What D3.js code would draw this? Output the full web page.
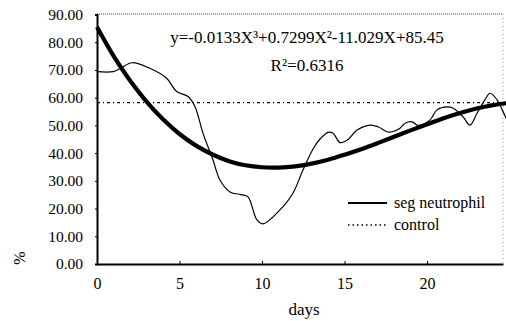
<!DOCTYPE html>
<html><head><meta charset="utf-8">
<script src="https://cdn.jsdelivr.net/npm/d3@7"></script>
<style>
body{margin:0;background:#fff;}
svg text{font-family:"Liberation Serif","Times New Roman",serif;fill:#000;}
</style></head>
<body><svg id="c" width="506" height="321"></svg>
<script>
// seg neutrophil (thin) series
const segDays = [0,0.97,1.4,2.12,3.2,4.22,4.83,5.52,5.94,6.42,7.03,7.45,8.06,8.73,9.15,9.68,10.06,11.27,11.88,12.48,13.09,13.5,14.0,14.3,14.73,15.15,15.76,16.55,17.03,17.58,17.88,18.36,18.67,19.09,19.45,20.18,20.6,21.2,21.58,22.18,22.6,23.03,23.5,23.82,24.24,24.55,24.8];
const segValues = [69.4,69.4,70.5,72.6,70.6,67,62.2,60.4,56.7,47.2,37.5,30.3,26,25,24.2,16,14.5,20.7,25.6,33.9,41.5,45,47.5,47.2,43.8,44.6,48.3,50.1,49.5,47.7,47.7,49,50.8,51.3,50,52,55.6,56.7,56.2,53.1,50.1,54.4,59.2,61.6,59.2,55.6,52.5];
// trend line (thick)
const trendDays = [0,1,2,3,4,5,6,7,8,9,10,11,12,13,14,15,16,17,18,19,20,21,22,23,24,24.8];
const trendValues = [85.5,75.1,66.2,58.6,52.2,46.9,42.7,39.5,37.1,35.6,34.9,34.8,35.2,36.2,37.6,39.4,41.4,43.6,45.9,48.2,50.4,52.6,54.5,56.1,57.3,58.0];
// control level
const controlValue = 58.2;
const yTicks = [0,10,20,30,40,50,60,70,80,90];
const xTicks = [0,5,10,15,20];
const equationText = "y=-0.0133X\u00B3+0.7299X\u00B2-11.029X+85.45";
const r2Text = "R\u00B2=0.6316";
const legendNames = ["seg neutrophil","control"];

const svg = d3.select("#c");
const L=97, R=503, T=14.5, B=264;
const x = d3.scaleLinear().domain([0,24.6]).range([L,R]);
const y = d3.scaleLinear().domain([0,90]).range([B,T]);

// top & right frame (faint dotted)
svg.append("line").attr("x1",L).attr("x2",R).attr("y1",14).attr("y2",14)
  .attr("stroke","#444").attr("stroke-width",1.2).attr("stroke-dasharray","1,1");
svg.append("line").attr("x1",R).attr("x2",R).attr("y1",14).attr("y2",B)
  .attr("stroke","#999").attr("stroke-width",1).attr("stroke-dasharray","1,3");

// axes
const yAxis = svg.append("g").attr("transform",`translate(${L},0)`)
  .call(d3.axisLeft(y).tickValues(yTicks).tickSize(2).tickPadding(12).tickFormat(d=>d3.format(".2f")(d)));
yAxis.select(".domain").attr("stroke-width",2);
yAxis.selectAll("text").attr("font-size",15.5).attr("font-family","Liberation Serif");
const xAxis = svg.append("g").attr("transform",`translate(0,${B})`)
  .call(d3.axisBottom(x).tickValues(xTicks).tickSizeInner(-3).tickSizeOuter(0).tickPadding(14));
xAxis.select(".domain").attr("stroke-width",2);
xAxis.selectAll("text").attr("font-size",16).attr("font-family","Liberation Serif");

// control line
svg.append("line").attr("x1",x(0)).attr("x2",R).attr("y1",y(controlValue)).attr("y2",y(controlValue))
  .attr("stroke","#000").attr("stroke-width",1.3).attr("stroke-dasharray","3,3,1,3");

// trend line
const trend = trendDays.map((d,i)=>[d,trendValues[i]]);
svg.append("path").datum(trend)
  .attr("d",d3.line().x(d=>x(d[0])).y(d=>y(d[1])).curve(d3.curveCatmullRom))
  .attr("fill","none").attr("stroke","#000").attr("stroke-width",4.2);

// seg neutrophil line
const seg = segDays.map((d,i)=>[d,segValues[i]]);
svg.append("path").datum(seg)
  .attr("d",d3.line().x(d=>x(d[0])).y(d=>y(d[1])).curve(d3.curveCatmullRom))
  .attr("fill","none").attr("stroke","#000").attr("stroke-width",1.2);

// equation
svg.append("text").attr("x",307).attr("y",43).attr("text-anchor","middle").attr("font-size",17).text(equationText);
svg.append("text").attr("x",307).attr("y",71).attr("text-anchor","middle").attr("font-size",17).text(r2Text);

// legend
svg.append("line").attr("x1",348).attr("x2",387).attr("y1",203).attr("y2",203).attr("stroke","#000").attr("stroke-width",2);
svg.append("text").attr("x",394).attr("y",208).attr("font-size",16).text(legendNames[0]);
svg.append("line").attr("x1",348).attr("x2",387).attr("y1",225).attr("y2",225).attr("stroke","#000").attr("stroke-width",1.3).attr("stroke-dasharray","1.5,3");
svg.append("text").attr("x",394).attr("y",230).attr("font-size",16).text(legendNames[1]);

// axis titles
svg.append("text").attr("x",304).attr("y",315).attr("text-anchor","middle").attr("font-size",17).text("days");
svg.append("text").attr("transform","translate(25,258) rotate(-90)").attr("text-anchor","middle").attr("font-size",16).text("%");
</script></body></html>
